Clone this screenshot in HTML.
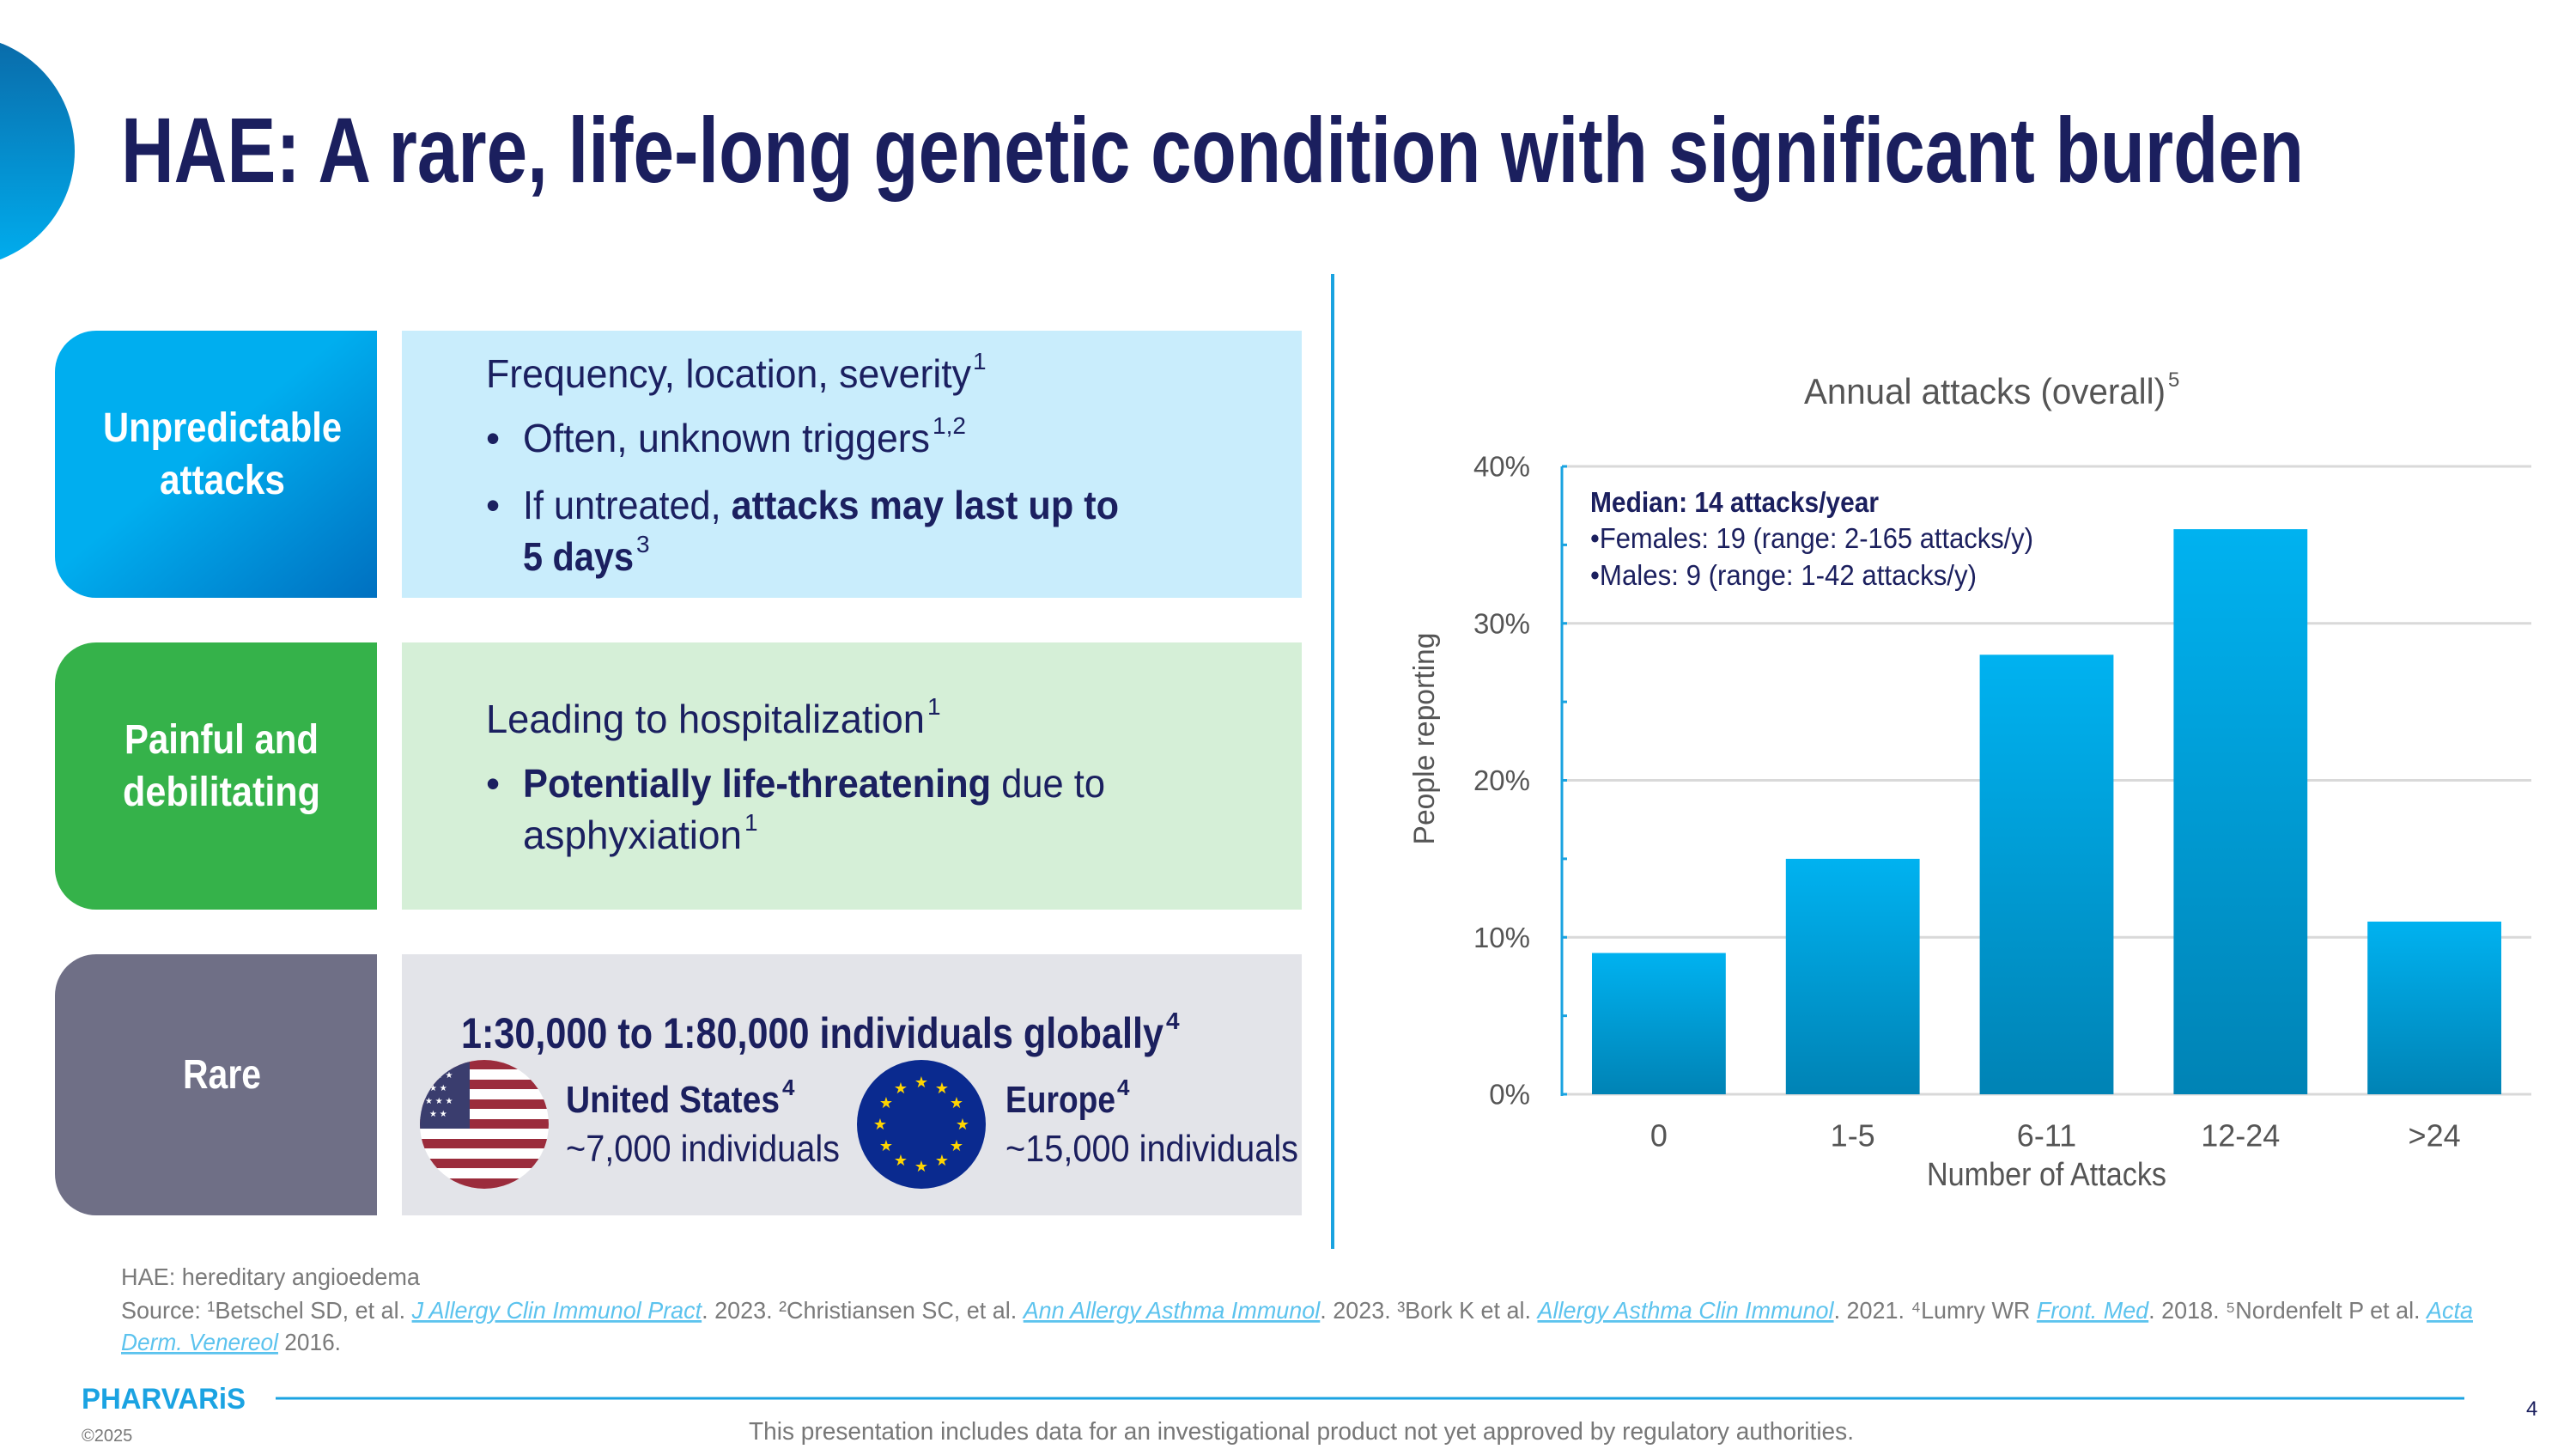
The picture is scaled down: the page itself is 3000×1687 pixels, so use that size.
<!DOCTYPE html>
<html><head><meta charset="utf-8"><style>
html,body{margin:0;padding:0;background:#fff;}
svg{display:block;}
text{font-family:"Liberation Sans",sans-serif;}
</style></head><body>
<svg id="page" width="3000" height="1687" viewBox="0 0 3000 1687" xmlns="http://www.w3.org/2000/svg">
<defs>
<linearGradient id="decoGrad" x1="0" y1="0" x2="0" y2="1"><stop offset="0" stop-color="#0a6aa8"/><stop offset="1" stop-color="#00aeef"/></linearGradient>
<linearGradient id="blueBox" x1="0" y1="0" x2="1" y2="1"><stop offset="0.45" stop-color="#00aeef"/><stop offset="1" stop-color="#0070c0"/></linearGradient>
<linearGradient id="barGrad" x1="0" y1="0" x2="0" y2="1"><stop offset="0" stop-color="#00b2f0"/><stop offset="1" stop-color="#0083b5"/></linearGradient>
<clipPath id="usClip"><circle cx="564" cy="1309" r="75"/></clipPath>
</defs>

<circle cx="-48" cy="176" r="135" fill="url(#decoGrad)"/>

<text x="141" y="212" font-size="108" font-weight="bold" fill="#1b1f5e" textLength="2542" lengthAdjust="spacingAndGlyphs">HAE: A rare, life-long genetic condition with significant burden</text>

<line x1="1552" y1="319" x2="1552" y2="1454" stroke="#1aa3e0" stroke-width="4"/>

<!-- Row 1 -->
<g>
<path d="M112 385 H439 V696 H112 A48 48 0 0 1 64 648 V433 A48 48 0 0 1 112 385Z" fill="url(#blueBox)"/>
<text x="120" y="514" font-size="48" font-weight="bold" fill="#fff" textLength="278" lengthAdjust="spacingAndGlyphs">Unpredictable</text>
<text x="186" y="575" font-size="48" font-weight="bold" fill="#fff" textLength="146" lengthAdjust="spacingAndGlyphs">attacks</text>
<rect x="468" y="385" width="1048" height="311" fill="#c9edfc"/>
<g fill="#1b2060">
<text x="566" y="451" font-size="46" textLength="565" lengthAdjust="spacingAndGlyphs">Frequency, location, severity</text>
<text x="1133" y="430" font-size="28">1</text>
<text x="566" y="526" font-size="46">•</text>
<text x="609" y="526" font-size="46" textLength="474" lengthAdjust="spacingAndGlyphs">Often, unknown triggers</text>
<text x="1086" y="505" font-size="28">1,2</text>
<text x="566" y="604" font-size="46">•</text>
<text x="609" y="604" font-size="46" textLength="694" lengthAdjust="spacingAndGlyphs">If untreated, <tspan font-weight="bold">attacks may last up to</tspan></text>
<text x="609" y="664" font-size="46" font-weight="bold" textLength="129" lengthAdjust="spacingAndGlyphs">5 days</text>
<text x="741" y="643" font-size="28">3</text>
</g>
</g>

<!-- Row 2 -->
<g>
<path d="M112 748 H439 V1059 H112 A48 48 0 0 1 64 1011 V796 A48 48 0 0 1 112 748Z" fill="#35b24a"/>
<text x="145" y="877" font-size="48" font-weight="bold" fill="#fff" textLength="226" lengthAdjust="spacingAndGlyphs">Painful and</text>
<text x="143" y="938" font-size="48" font-weight="bold" fill="#fff" textLength="230" lengthAdjust="spacingAndGlyphs">debilitating</text>
<rect x="468" y="748" width="1048" height="311" fill="#d5efd7"/>
<g fill="#1b2060">
<text x="566" y="853" font-size="46" textLength="511" lengthAdjust="spacingAndGlyphs">Leading to hospitalization</text>
<text x="1080" y="832" font-size="28">1</text>
<text x="566" y="928" font-size="46">•</text>
<text x="609" y="928" font-size="46" textLength="678" lengthAdjust="spacingAndGlyphs"><tspan font-weight="bold">Potentially life-threatening</tspan> due to</text>
<text x="609" y="988" font-size="46" textLength="255" lengthAdjust="spacingAndGlyphs">asphyxiation</text>
<text x="867" y="967" font-size="28">1</text>
</g>
</g>

<!-- Row 3 -->
<g>
<path d="M112 1111 H439 V1415 H112 A48 48 0 0 1 64 1367 V1159 A48 48 0 0 1 112 1111Z" fill="#6f6f86"/>
<text x="213" y="1267" font-size="48" font-weight="bold" fill="#fff" textLength="91" lengthAdjust="spacingAndGlyphs">Rare</text>
<rect x="468" y="1111" width="1048" height="304" fill="#e3e4e9"/>
<text x="537" y="1220" font-size="50" font-weight="bold" fill="#1b1f5e" textLength="818" lengthAdjust="spacingAndGlyphs">1:30,000 to 1:80,000 individuals globally</text>
<text x="1358" y="1198" font-size="28" font-weight="bold" fill="#1b1f5e">4</text>
<g clip-path="url(#usClip)">
<rect x="489" y="1234" width="150" height="150" fill="#fff"/>
<g fill="#9b2c3c">
<rect x="489" y="1234" width="150" height="11"/><rect x="489" y="1257" width="150" height="11"/><rect x="489" y="1280" width="150" height="11"/><rect x="489" y="1303" width="150" height="11"/><rect x="489" y="1326" width="150" height="11"/><rect x="489" y="1349" width="150" height="11"/><rect x="489" y="1372" width="150" height="12"/>
</g>
<rect x="489" y="1234" width="58" height="80" fill="#3a3d6e"/>
<g fill="#fff" font-size="10"><text x="495" y="1255">★ ★ ★</text><text x="500" y="1270">★ ★</text><text x="495" y="1285">★ ★ ★</text><text x="500" y="1300">★ ★</text></g>
</g>
<text x="659" y="1295" font-size="44" font-weight="bold" fill="#1b1f5e" textLength="249" lengthAdjust="spacingAndGlyphs">United States</text>
<text x="911" y="1275" font-size="26" font-weight="bold" fill="#1b1f5e">4</text>
<text x="659" y="1352" font-size="44" fill="#1b1f5e" textLength="319" lengthAdjust="spacingAndGlyphs">~7,000 individuals</text>
<g>
<circle cx="1073" cy="1309" r="75" fill="#0a2a8f"/>
<g fill="#ffd500" font-size="18" text-anchor="middle" dominant-baseline="central">
<text x="1073" y="1260">★</text><text x="1097" y="1267">★</text><text x="1114" y="1284">★</text><text x="1121" y="1309">★</text><text x="1114" y="1334">★</text><text x="1097" y="1351">★</text><text x="1073" y="1358">★</text><text x="1049" y="1351">★</text><text x="1032" y="1334">★</text><text x="1025" y="1309">★</text><text x="1032" y="1284">★</text><text x="1049" y="1267">★</text>
</g>
</g>
<text x="1171" y="1295" font-size="44" font-weight="bold" fill="#1b1f5e" textLength="128" lengthAdjust="spacingAndGlyphs">Europe</text>
<text x="1301" y="1275" font-size="26" font-weight="bold" fill="#1b1f5e">4</text>
<text x="1171" y="1352" font-size="44" fill="#1b1f5e" textLength="341" lengthAdjust="spacingAndGlyphs">~15,000 individuals</text>
</g>

<!-- Chart -->
<g id="chart">
<text x="2101" y="470" font-size="42" fill="#555" textLength="421" lengthAdjust="spacingAndGlyphs">Annual attacks (overall)</text>
<text x="2525" y="450" font-size="24" fill="#555">5</text>
<g id="grid"></g>
<g id="bars"></g>
<g id="xlabels"></g>
<g id="ylabels"></g>
<text transform="translate(1670,860) rotate(-90)" text-anchor="middle" font-size="34" fill="#555" textLength="247" lengthAdjust="spacingAndGlyphs">People reporting</text>
<text x="2244" y="1380" font-size="38" fill="#555" textLength="279" lengthAdjust="spacingAndGlyphs">Number of Attacks</text>
<g fill="#1b1f5e">
<text x="1852" y="596" font-size="33" font-weight="bold" textLength="336" lengthAdjust="spacingAndGlyphs">Median: 14 attacks/year</text>
<text x="1852" y="638" font-size="33" textLength="516" lengthAdjust="spacingAndGlyphs">•Females: 19 (range: 2-165 attacks/y)</text>
<text x="1852" y="681" font-size="33" textLength="450" lengthAdjust="spacingAndGlyphs">•Males: 9 (range: 1-42 attacks/y)</text>
</g>
</g>

<!-- Footnotes -->
<g fill="#7a7a7a" font-size="28">
<text x="141" y="1496" textLength="348" lengthAdjust="spacingAndGlyphs">HAE: hereditary angioedema</text>
<text x="141" y="1535" textLength="2739" lengthAdjust="spacingAndGlyphs">Source: ¹Betschel SD, et al. <tspan fill="#5cc3ee" font-style="italic" text-decoration="underline">J Allergy Clin Immunol Pract</tspan>. 2023. ²Christiansen SC, et al. <tspan fill="#5cc3ee" font-style="italic" text-decoration="underline">Ann Allergy Asthma Immunol</tspan>. 2023. ³Bork K et al. <tspan fill="#5cc3ee" font-style="italic" text-decoration="underline">Allergy Asthma Clin Immunol</tspan>. 2021. ⁴Lumry WR <tspan fill="#5cc3ee" font-style="italic" text-decoration="underline">Front. Med</tspan>. 2018. ⁵Nordenfelt P et al. <tspan fill="#5cc3ee" font-style="italic" text-decoration="underline">Acta</tspan></text>
<text x="141" y="1572" textLength="256" lengthAdjust="spacingAndGlyphs"><tspan fill="#5cc3ee" font-style="italic" text-decoration="underline">Derm. Venereol</tspan> 2016.</text>
</g>

<!-- Footer -->
<text x="95" y="1640" font-size="34" font-weight="bold" fill="#1ba3e2" textLength="191" lengthAdjust="spacingAndGlyphs">PHARVARiS</text>
<text x="95" y="1678" font-size="20" fill="#777">©2025</text>
<line x1="321" y1="1628" x2="2870" y2="1628" stroke="#1ba3e2" stroke-width="3"/>
<text x="2942" y="1648" font-size="24" fill="#1b1f5e">4</text>
<text x="872" y="1676" font-size="29" fill="#777" textLength="1287" lengthAdjust="spacingAndGlyphs">This presentation includes data for an investigational product not yet approved by regulatory authorities.</text>
</svg>
<script>
const categories=["0","1-5","6-11","12-24",">24"];
const values=[9,15,28,36,11];
const yTicks=[0,10,20,30,40];
const yTickLabels=["0%","10%","20%","30%","40%"];
const minorTicks=[5,15,25,35];

const NS="http://www.w3.org/2000/svg";
const plot={left:1819,right:2948,top:543,bottom:1274};
const yMax=40;
function yScale(v){return plot.bottom-(v/yMax)*(plot.bottom-plot.top);}
const band=(plot.right-plot.left)/categories.length;
function xCenter(i){return plot.left+band*(i+0.5);}
const barW=band*0.69;
function mk(tag,attrs,parent){const e=document.createElementNS(NS,tag);for(const k in attrs)e.setAttribute(k,attrs[k]);parent.appendChild(e);return e;}

const grid=document.getElementById('grid');
yTicks.forEach((t,i)=>{
  const l=mk('line',{x1:plot.left,x2:plot.right,y1:yScale(t),y2:yScale(t),stroke:'#d9d9d9','stroke-width':3},grid);
  
  
  const tk=mk('line',{x1:plot.left,x2:plot.left+6,y1:yScale(t),y2:yScale(t),stroke:'#1aa3e0','stroke-width':3},grid);
  
  
  const lab=mk('text',{x:1782,y:yScale(t),'text-anchor':'end','dominant-baseline':'central','font-size':33,fill:'#555'},document.getElementById('ylabels'));
  lab.textContent=yTickLabels[i];
  
  
});
minorTicks.forEach(t=>{
  const tk=mk('line',{x1:plot.left,x2:plot.left+6,y1:yScale(t),y2:yScale(t),stroke:'#1aa3e0','stroke-width':3},grid);
  
  
});
const ax=mk('line',{x1:plot.left,x2:plot.left,y1:plot.top,y2:plot.bottom+2,stroke:'#1aa3e0','stroke-width':3},grid);



const bars=document.getElementById('bars');
categories.forEach((c,i)=>{
  const y=yScale(values[i]);
  const r=mk('rect',{x:xCenter(i)-barW/2,y:y,width:barW,height:plot.bottom-y,fill:'url(#barGrad)'},bars);
  
  
  const t=mk('text',{x:xCenter(i),y:1322,'text-anchor':'middle','dominant-baseline':'central','font-size':36,fill:'#555'},document.getElementById('xlabels'));
  t.textContent=c;
  
  
});
</script>
</body></html>
